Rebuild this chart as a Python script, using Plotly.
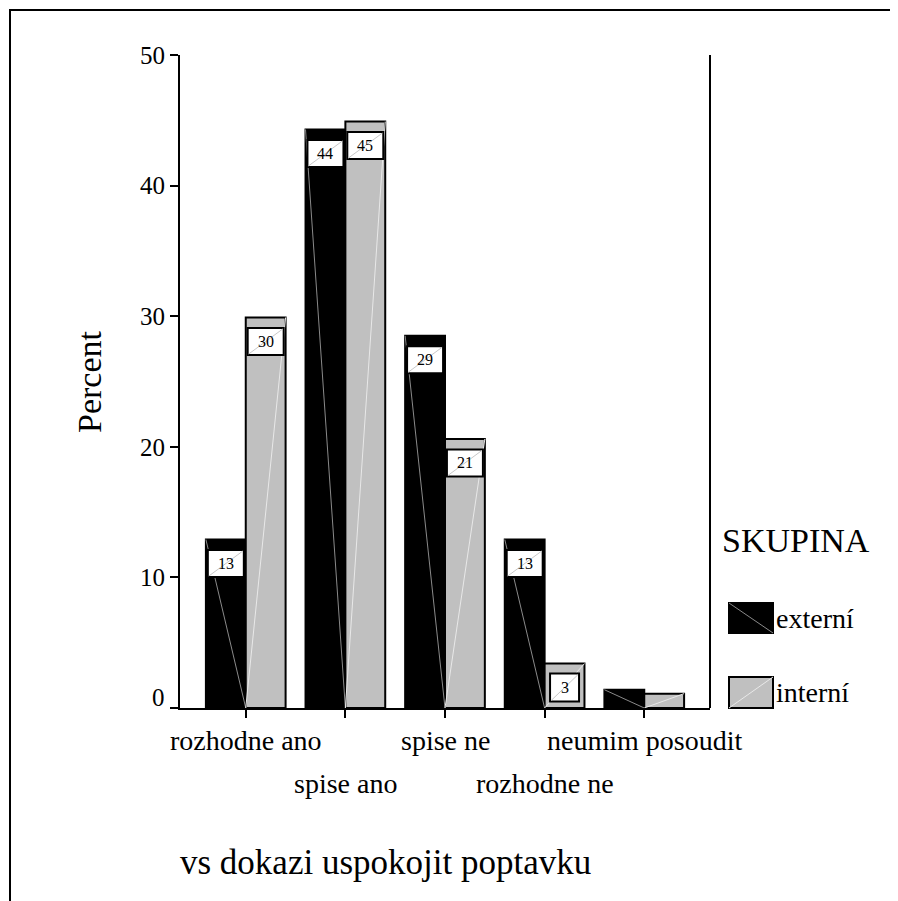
import plotly.graph_objects as go

categories = ["rozhodne ano", "spise ano", "spise ne", "rozhodne ne", "neumim posoudit"]
externi = [12.9, 44.3, 28.5, 12.9, 1.4]
interni = [29.9, 44.9, 20.6, 3.4, 1.1]
externi_labels = ["13", "44", "29", "13", ""]
interni_labels = ["30", "45", "21", "3", ""]
y_ticks = [0, 10, 20, 30, 40, 50]
series_names = ["externí", "interní"]
legend_title = "SKUPINA"
x_title = "vs dokazi uspokojit poptavku"
y_title = "Percent"

FONT = "Liberation Serif"
GRAY = "#c0c0c0"
BAR_HALF = 0.4  # width of one bar in category units (bargap 0.2)

fig = go.Figure()
fig.add_trace(go.Bar(x=categories, y=externi, name=series_names[0],
                     marker=dict(color="black", line=dict(color="black", width=2))))
fig.add_trace(go.Bar(x=categories, y=interni, name=series_names[1],
                     marker=dict(color=GRAY, line=dict(color="black", width=2))))

annotations = []
shapes = []

# faint diagonal rendering lines inside bars
for i in range(len(categories)):
    shapes.append(dict(type="line", xref="x", yref="y", x0=i - BAR_HALF, y0=externi[i],
                       x1=i, y1=0, line=dict(color="#8a8a8a", width=1), layer="above"))
    shapes.append(dict(type="line", xref="x", yref="y", x0=i, y0=0,
                       x1=i + BAR_HALF, y1=interni[i], line=dict(color="#e8e8e8", width=1),
                       layer="above"))

# value label boxes
for i, c in enumerate(categories):
    for vals, labs, off in ((externi, externi_labels, -BAR_HALF / 2),
                            (interni, interni_labels, BAR_HALF / 2)):
        if labs[i]:
            w = 18 if len(labs[i]) > 1 else 14.5
            h = 13.5 if len(labs[i]) > 1 else 14
            xa, ya = i + off, vals[i]
            shapes.append(dict(type="rect", xref="x", yref="y", xsizemode="pixel",
                               ysizemode="pixel", xanchor=xa, yanchor=ya,
                               x0=-w, x1=w, y0=-24 - h, y1=-24 + h,
                               fillcolor="white", line=dict(color="black", width=2),
                               layer="above"))
            shapes.append(dict(type="line", xref="x", yref="y", xsizemode="pixel",
                               ysizemode="pixel", xanchor=xa, yanchor=ya,
                               x0=-w + 1, x1=w - 1, y0=-24 - h + 1, y1=-24 + h - 1,
                               line=dict(color="#c8c8c8", width=1), layer="above"))
            annotations.append(dict(
                x=xa, y=ya, xref="x", yref="y", text=labs[i], showarrow=False,
                yshift=-24, yanchor="middle", xanchor="center",
                font=dict(family=FONT, size=16, color="black")))

# staggered x tick labels
for i, c in enumerate(categories):
    annotations.append(dict(
        x=c, y=0, xref="x", yref="y", text=c, showarrow=False,
        yshift=-32 if i % 2 == 0 else -75, yanchor="middle",
        font=dict(family=FONT, size=28, color="black")))

# y "0" label nudged up
annotations.append(dict(x=0, y=0, xref="paper", yref="y", text="0", showarrow=False,
                        xanchor="right", xshift=-13, yshift=11, yanchor="middle",
                        font=dict(family=FONT, size=25, color="black")))

# titles
annotations.append(dict(x=(385 - 180) / 530, y=(708 - 862) / 653, xref="paper", yref="paper",
                        text=x_title, showarrow=False, xanchor="center", yanchor="middle",
                        font=dict(family=FONT, size=35, color="black")))
annotations.append(dict(x=(90 - 180) / 530, y=(708 - 382) / 653, xref="paper", yref="paper",
                        text=y_title, showarrow=False, textangle=-90, xanchor="center",
                        yanchor="middle", font=dict(family=FONT, size=34, color="black")))

# legend
annotations.append(dict(x=(720 - 180) / 530, y=(708 - 540) / 653, xref="paper", yref="paper",
                        text=legend_title, showarrow=False, xanchor="left", yanchor="middle",
                        font=dict(family=FONT, size=34, color="black")))
legend_rows = [(603, 633, "black", "#8a8a8a", True), (677, 708, GRAY, "#e8e8e8", False)]
for (y0, y1, col, dcol, down), name in zip(legend_rows, series_names):
    px0, px1 = (729 - 180) / 530, (773 - 180) / 530
    py0, py1 = (708 - y1) / 653, (708 - y0) / 653
    shapes.append(dict(type="rect", xref="paper", yref="paper",
                       x0=px0, x1=px1, y0=py0, y1=py1,
                       fillcolor=col, line=dict(color="black", width=2)))
    shapes.append(dict(type="line", xref="paper", yref="paper",
                       x0=px0, x1=px1, y0=py1 if down else py0, y1=py0 if down else py1,
                       line=dict(color=dcol, width=1)))
    annotations.append(dict(x=(774 - 180) / 530, y=(708 - (y0 + y1) / 2) / 653,
                            xref="paper", yref="paper", text=name, showarrow=False,
                            xanchor="left", yanchor="middle",
                            font=dict(family=FONT, size=28, color="black")))

# outer border
shapes.append(dict(type="rect", xref="paper", yref="paper",
                   x0=(10 - 180) / 530, x1=(940 - 180) / 530,
                   y0=(708 - 940) / 653, y1=(708 - 10) / 653,
                   line=dict(color="black", width=2), fillcolor="rgba(0,0,0,0)", layer="below"))
# right frame line
shapes.append(dict(type="line", xref="paper", yref="paper", x0=1, x1=1, y0=0, y1=1,
                   line=dict(color="black", width=2)))

fig.update_layout(
    width=898, height=901,
    margin=dict(l=172, r=196, t=47, b=201),
    paper_bgcolor="white", plot_bgcolor="white",
    barmode="group", bargap=0.2, bargroupgap=0,
    showlegend=False,
    annotations=annotations, shapes=shapes,
    font=dict(family=FONT, color="black"),
)
fig.update_xaxes(type="category", range=[-0.66, 4.66], showgrid=False, zeroline=False,
                 showline=True, linecolor="black", linewidth=2,
                 ticks="outside", ticklen=8, tickwidth=2, tickcolor="black",
                 showticklabels=False)
fig.update_yaxes(range=[0, 50], tickvals=y_ticks,
                 ticktext=["" if v == 0 else str(v) for v in y_ticks],
                 showgrid=False, zeroline=False,
                 showline=True, linecolor="black", linewidth=2,
                 ticks="outside", ticklen=8, tickwidth=2, tickcolor="black",
                 tickfont=dict(family=FONT, size=25, color="black"))

fig.write_html("out.html")
